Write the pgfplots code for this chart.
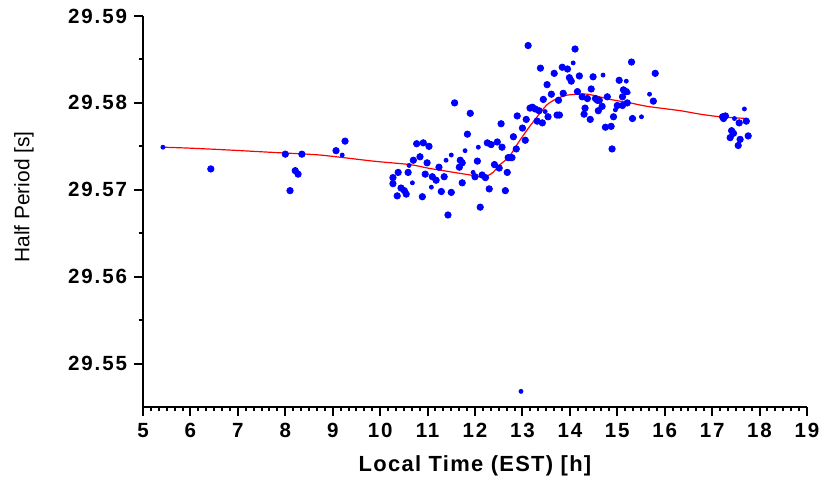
\documentclass[border=0pt]{standalone}
\usepackage{fontspec}
\setmainfont{Liberation Sans}
\newfontfamily\tickfont[LetterSpace=9]{Liberation Sans}
\newfontfamily\labfont[LetterSpace=6]{Liberation Sans}
\usepackage{pgfplots}
\pgfplotsset{compat=1.18}

\begin{document}
\begin{tikzpicture}
\begin{axis}[
  scale only axis,
  width=332bp, height=195.5bp,
  xmin=5, xmax=19, ymin=29.545, ymax=29.59,
  axis lines*=left,
  axis line style={line width=1bp},
  xtick={5,...,19},
  minor x tick num=5,
  ytick={29.55,29.56,29.57,29.58,29.59},
  minor y tick num=1,
  tick align=outside,
  tick style={line width=1bp, black},
  major tick length=4.5bp,
  minor tick length=2.2bp,
  scaled y ticks=false,
  /pgf/number format/assume math mode=true,
  yticklabel style={/pgf/number format/.cd, fixed, fixed zerofill, precision=2},
  ticklabel style={font=\tickfont\bfseries\fontsize{10.3}{12}\selectfont},
  clip=false,
]
\addplot[red, line width=0.6bp, smooth, tension=0.4] table {
5.42 29.5749
5.95 29.5748
6.73 29.5746
7.74 29.5743
8.73 29.5740
9.85 29.5733
10.63 29.5729
11.00 29.5725
11.33 29.5722
11.90 29.5717
12.11 29.5715
12.26 29.5716
12.38 29.5720
12.53 29.5729
12.72 29.5738
12.91 29.5754
13.10 29.5769
13.31 29.5784
13.52 29.5798
13.73 29.5805
13.95 29.5809
14.37 29.5810
14.85 29.5804
15.27 29.5800
15.63 29.5796
16.33 29.5791
16.75 29.5787
17.17 29.5784
17.74 29.5782
};
% larger markers
\addplot[only marks, mark=*, mark size=1.6bp, blue, mark options={draw=blue, fill=blue}] table {
6.43 29.5724
8.00 29.5741
8.35 29.5741
8.21 29.5722
8.27 29.5718
8.10 29.5699
9.07 29.5745
9.26 29.5756
12.55 29.5776
11.84 29.5764
10.77 29.5753
10.91 29.5754
11.03 29.5750
12.26 29.5754
12.47 29.5755
12.34 29.5752
10.70 29.5734
10.84 29.5738
10.99 29.5731
11.69 29.5734
11.73 29.5731
12.05 29.5733
11.67 29.5726
11.24 29.5726
12.41 29.5729
12.51 29.5725
12.70 29.5737
10.38 29.5720
10.59 29.5720
10.95 29.5718
12.15 29.5717
12.22 29.5714
12.68 29.5720
10.27 29.5714
11.10 29.5715
11.18 29.5711
11.35 29.5715
12.00 29.5715
10.27 29.5707
11.73 29.5708
10.44 29.5702
10.51 29.5699
10.55 29.5695
10.36 29.5693
11.29 29.5698
11.50 29.5697
10.89 29.5692
12.30 29.5701
12.64 29.5699
12.11 29.5680
11.43 29.5671
11.57 29.5800
11.90 29.5788
13.12 29.5866
14.11 29.5862
13.38 29.5840
13.84 29.5841
13.95 29.5839
13.67 29.5834
14.20 29.5831
13.99 29.5829
14.03 29.5825
13.52 29.5821
13.61 29.5810
13.86 29.5811
14.16 29.5813
14.26 29.5807
14.37 29.5805
13.76 29.5803
13.44 29.5804
13.21 29.5795
13.27 29.5793
13.16 29.5794
13.35 29.5791
14.32 29.5794
12.89 29.5785
13.54 29.5784
13.73 29.5786
13.78 29.5786
14.30 29.5787
13.08 29.5781
13.31 29.5779
13.42 29.5777
13.00 29.5771
12.81 29.5761
13.06 29.5757
12.57 29.5749
12.87 29.5747
12.74 29.5737
12.78 29.5737
15.30 29.5847
15.80 29.5834
14.49 29.5830
15.04 29.5826
14.45 29.5816
15.13 29.5815
15.19 29.5813
14.79 29.5807
14.54 29.5805
14.58 29.5803
14.62 29.5803
15.11 29.5807
15.76 29.5802
15.21 29.5800
15.00 29.5797
15.11 29.5797
14.68 29.5796
14.60 29.5791
14.92 29.5784
15.32 29.5782
14.43 29.5781
14.75 29.5772
14.87 29.5773
14.89 29.5747
17.22 29.5784
17.28 29.5785
17.24 29.5782
17.57 29.5777
17.72 29.5779
17.41 29.5768
17.45 29.5765
17.38 29.5760
17.59 29.5758
17.76 29.5762
17.55 29.5751
};
% smaller markers
\addplot[only marks, mark=*, mark size=1.0bp, blue, mark options={draw=blue, fill=blue}] table {
5.42 29.5749
9.20 29.5740
10.61 29.5728
10.68 29.5708
11.50 29.5740
11.79 29.5745
12.07 29.5749
11.39 29.5734
11.08 29.5703
11.96 29.5720
14.07 29.5846
13.48 29.5790
14.70 29.5832
15.19 29.5825
15.23 29.5812
15.68 29.5810
14.96 29.5792
15.51 29.5784
17.68 29.5793
17.47 29.5782
12.97 29.5468
};
\coordinate (sw) at (rel axis cs:0,0);
\end{axis}
\node[rotate=90, font=\fontsize{10.5}{12}\selectfont] at ([shift={(-59.5bp,105bp)}]sw) {Half Period [s]};
\node[font=\labfont\bfseries\fontsize{11}{13}\selectfont] at ([shift={(166bp,-29.5bp)}]sw) {Local Time (EST) [h]};
\pgfresetboundingbox
\path ([shift={(-71.5bp,-36.5bp)}]sw) rectangle ++(411.5bp,240bp);
\end{tikzpicture}
\end{document}
